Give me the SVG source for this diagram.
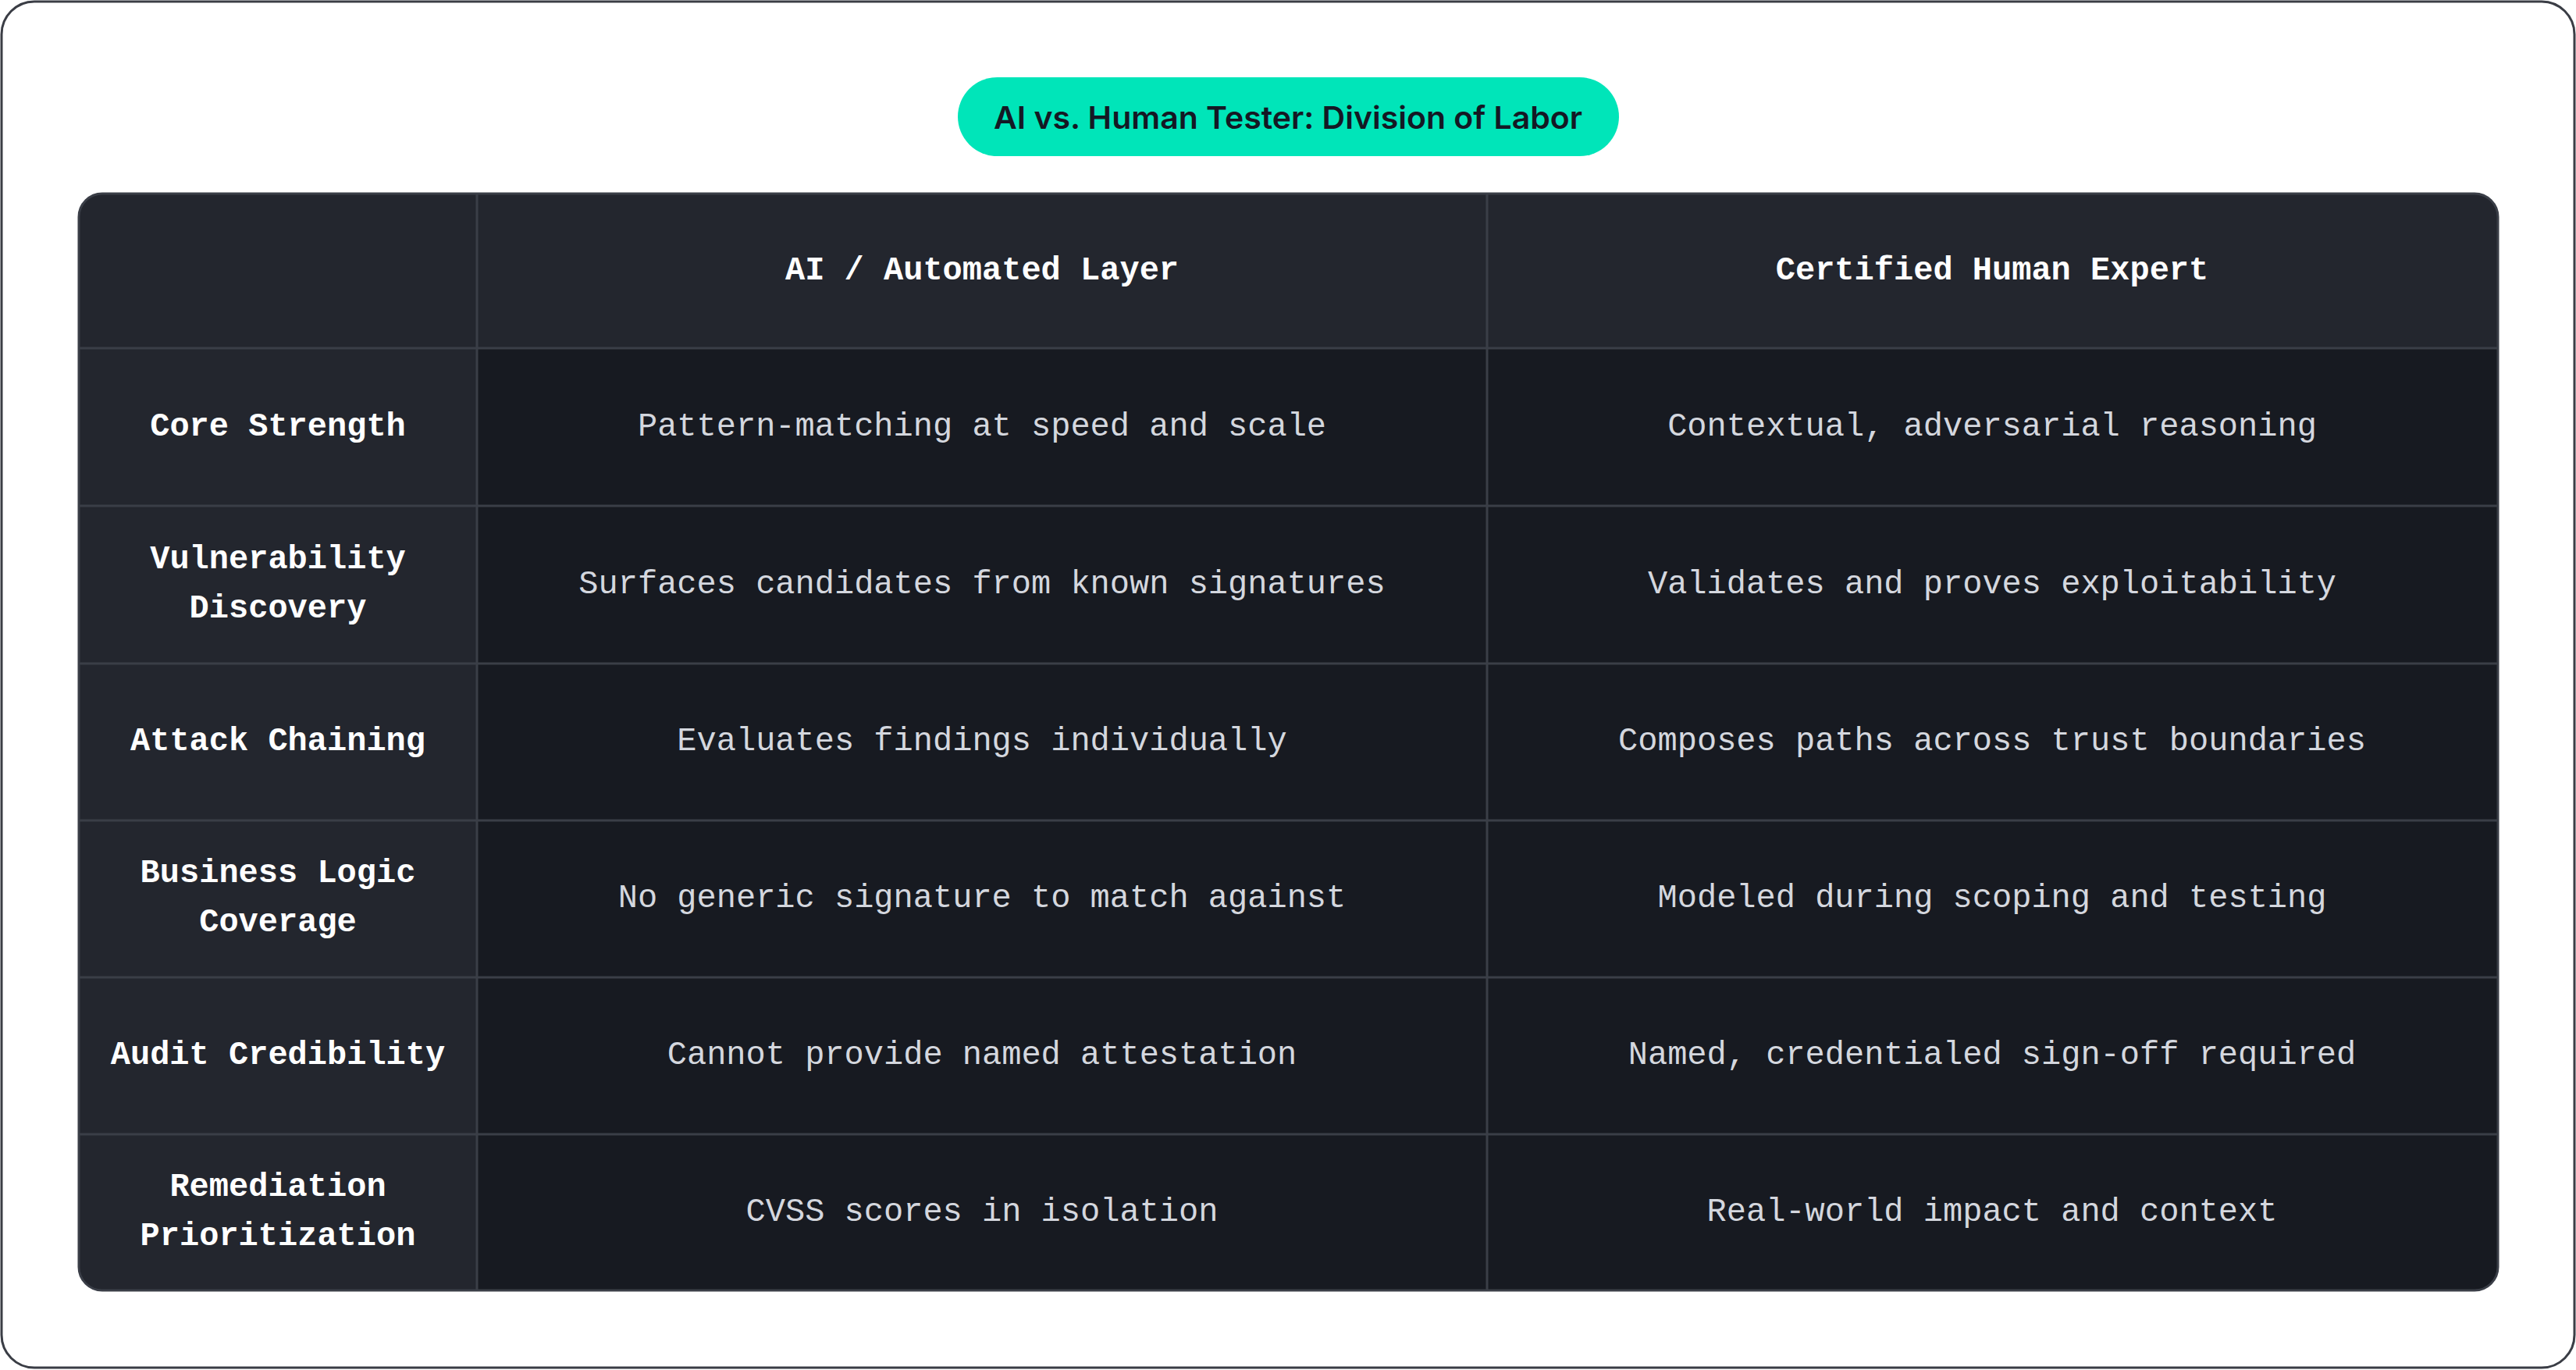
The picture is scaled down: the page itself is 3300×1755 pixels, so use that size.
<svg xmlns="http://www.w3.org/2000/svg" width="3300" height="1755" viewBox="0 0 3300 1755">
<style>
.hd{font-family:"Liberation Mono","DejaVu Sans Mono",monospace;font-weight:bold;font-size:42px;fill:#ffffff;text-anchor:middle;dominant-baseline:central}
.lb{font-family:"Liberation Mono","DejaVu Sans Mono",monospace;font-weight:bold;font-size:42px;fill:#ffffff;text-anchor:middle;dominant-baseline:central}
.tx{font-family:"Liberation Mono","DejaVu Sans Mono",monospace;font-size:42px;fill:#d4d7de;text-anchor:middle;dominant-baseline:central}
.gl{stroke:#3a3e47;stroke-width:3}
</style>
<defs><clipPath id="tc"><rect x="101" y="248" width="3099" height="1405" rx="30"/></clipPath></defs>
<rect x="2" y="2" width="3296" height="1750" rx="42" fill="#ffffff" stroke="#3a3d45" stroke-width="3"/>
<g id="title">
<rect x="1227" y="99" width="847" height="101" rx="50.5" fill="#00e5b9"/>
<text x="1650" y="150" font-family="Inter, 'Noto Sans', sans-serif" font-weight="600" font-size="40" fill="#141824" text-anchor="middle" dominant-baseline="central" textLength="754" lengthAdjust="spacingAndGlyphs">AI vs. Human Tester: Division of Labor</text>
</g>
<g id="table">
<g clip-path="url(#tc)">
<rect x="101" y="248" width="3099" height="1405" fill="#171a21"/>
<rect x="101" y="248" width="3099" height="198" fill="#23262e"/>
<rect x="101" y="248" width="510" height="1405" fill="#23262e"/>
</g>
<g id="grid">
<line class="gl" x1="611" y1="248" x2="611" y2="1653"/>
<line class="gl" x1="1905" y1="248" x2="1905" y2="1653"/>
<line class="gl" x1="101" y1="446" x2="3200" y2="446"/>
<line class="gl" x1="101" y1="648" x2="3200" y2="648"/>
<line class="gl" x1="101" y1="850" x2="3200" y2="850"/>
<line class="gl" x1="101" y1="1051" x2="3200" y2="1051"/>
<line class="gl" x1="101" y1="1252" x2="3200" y2="1252"/>
<line class="gl" x1="101" y1="1453" x2="3200" y2="1453"/>
</g>
<rect x="101" y="248" width="3099" height="1405" rx="30" fill="none" stroke="#3a3e47" stroke-width="3"/>
</g>
<g id="header">
<text class="hd" x="1258" y="347">AI / Automated Layer</text>
<text class="hd" x="2552" y="347">Certified Human Expert</text>
</g>
<g id="row1">
<text class="lb" x="356" y="547">Core Strength</text>
<text class="tx" x="1258" y="547">Pattern-matching at speed and scale</text>
<text class="tx" x="2552" y="547">Contextual, adversarial reasoning</text>
</g>
<g id="row2">
<text class="lb" x="356" y="717">Vulnerability</text>
<text class="lb" x="356" y="780">Discovery</text>
<text class="tx" x="1258" y="749">Surfaces candidates from known signatures</text>
<text class="tx" x="2552" y="749">Validates and proves exploitability</text>
</g>
<g id="row3">
<text class="lb" x="356" y="950">Attack Chaining</text>
<text class="tx" x="1258" y="950">Evaluates findings individually</text>
<text class="tx" x="2552" y="950">Composes paths across trust boundaries</text>
</g>
<g id="row4">
<text class="lb" x="356" y="1119">Business Logic</text>
<text class="lb" x="356" y="1182">Coverage</text>
<text class="tx" x="1258" y="1151">No generic signature to match against</text>
<text class="tx" x="2552" y="1151">Modeled during scoping and testing</text>
</g>
<g id="row5">
<text class="lb" x="356" y="1352">Audit Credibility</text>
<text class="tx" x="1258" y="1352">Cannot provide named attestation</text>
<text class="tx" x="2552" y="1352">Named, credentialed sign-off required</text>
</g>
<g id="row6">
<text class="lb" x="356" y="1521">Remediation</text>
<text class="lb" x="356" y="1584">Prioritization</text>
<text class="tx" x="1258" y="1553">CVSS scores in isolation</text>
<text class="tx" x="2552" y="1553">Real-world impact and context</text>
</g>
</svg>
